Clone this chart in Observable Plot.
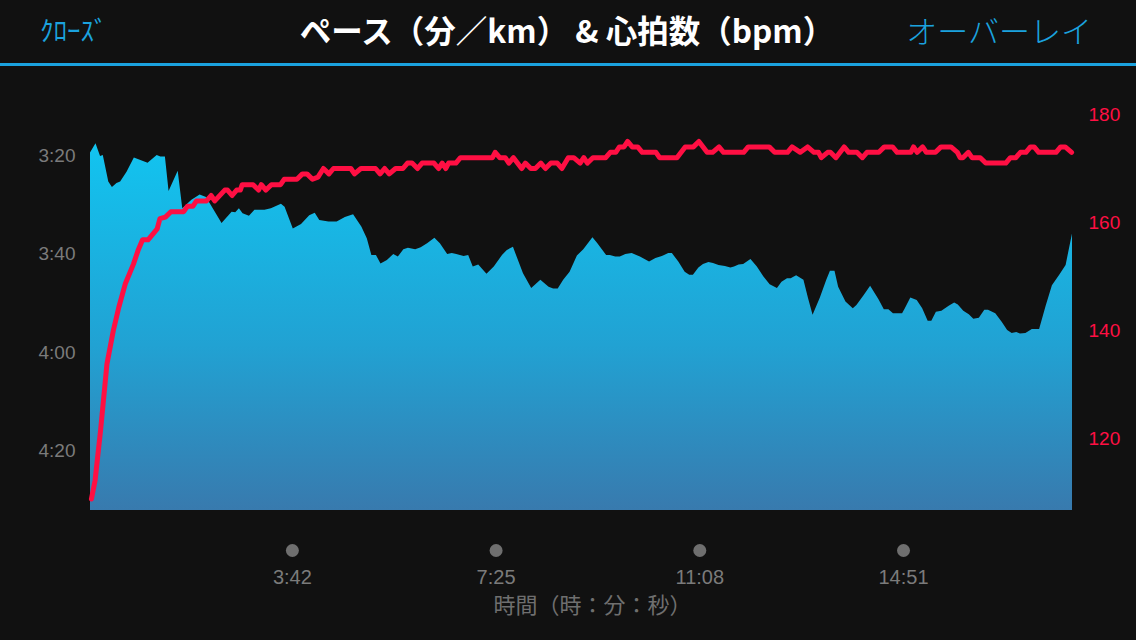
<!DOCTYPE html>
<html><head><meta charset="utf-8">
<script src="https://cdn.jsdelivr.net/npm/d3@7"></script>
<script src="https://cdn.jsdelivr.net/npm/@observablehq/plot@0.6"></script>
<style>
html,body{margin:0;padding:0;background:#111;}
#root{position:relative;width:1136px;height:640px;background:#111;overflow:hidden;}
#header{position:relative;height:63px;border-bottom:3px solid #1ba2de;}
.hdr{position:absolute;top:0;height:63px;line-height:60px;font-family:"Noto Sans CJK JP",sans-serif;white-space:nowrap;}
#close{left:40px;color:#1ba2de;font-size:27px;}
#title{left:567px;top:-1px;transform:translateX(-50%);color:#fff;font-size:31.5px;font-weight:700;}
#overlay{right:44px;color:#1ba2de;font-size:31px;font-weight:300;}
#chart{position:relative;width:1136px;height:574px;}
#chart svg{position:absolute;left:0;top:0;}
</style></head>
<body><div id="root">
<div id="header"><div class="hdr" id="close">ｸﾛｰｽﾞ</div><div class="hdr" id="title">ペース（分／km） &amp; 心拍数（bpm）</div><div class="hdr" id="overlay">オーバーレイ</div></div>
<div id="chart"></div>
</div>
<script>
// Pace (seconds per km) over elapsed time (s)
const paceTime = [1,7,12,15,21,25,30,34,41,49,64,74,78,83,87,97,102,112,121,128,145,156,160,164,168,175,181,192,199,210,214,223,232,241,247,252,262,271,280,289,298,304,309,314,319,326,333,338,344,349,357,363,370,378,384,392,397,402,410,415,420,426,435,443,452,457,464,468,475,484,494,503,508,513,519,526,534,541,551,556,566,570,576,581,587,594,603,613,620,627,634,638,645,652,657,661,667,672,678,683,689,696,702,706,711,716,724,731,738,745,753,758,764,768,774,782,787,792,800,807,811,816,820,828,836,840,848,855,864,870,875,880,890,893,899,906,912,918,922,927,933,941,947,951,957,963,968,974,980,984,992,999,1005,1010,1015,1019,1025,1032,1040,1047,1054,1062,1069,1076];
const paceSec = [199.5,197.6,200.2,200.0,205.4,206.5,205.7,205.4,203.4,200.5,201.6,200.0,200.3,200.3,207.3,203.2,210.8,209.1,208.0,208.5,213.8,211.5,211.6,210.8,211.8,212.3,211.1,211.1,210.8,209.9,210.5,214.9,214.0,212.2,211.7,213.2,213.5,213.5,212.6,212.0,214.5,216.9,220.3,220.3,222.0,221.3,220.1,220.6,219.1,218.8,219.1,218.7,217.9,216.8,217.9,220.1,219.9,220.1,220.5,220.3,222.6,222.2,224.1,222.6,220.3,219.3,218.6,220.6,224.0,227.0,225.3,226.7,227.1,227.1,225.3,223.7,220.4,219.1,216.7,217.8,220.3,220.3,220.6,220.6,220.1,219.9,220.6,221.6,220.9,220.5,219.9,219.9,221.6,223.7,224.3,224.3,222.8,222.1,221.7,221.9,222.3,222.5,222.8,222.6,222.2,222.1,221.1,222.6,224.6,226.2,227.0,225.7,225.0,225.0,224.4,225.3,229.0,232.4,228.9,225.3,223.5,223.5,226.7,229.7,231.1,230.4,228.4,226.5,229.2,231.3,231.3,232.1,232.1,231.1,228.9,229.4,231.1,233.6,233.6,231.8,231.6,230.6,229.9,230.3,231.6,232.3,233.2,233.0,231.4,231.4,232.1,233.8,235.5,236.1,235.9,236.2,236.1,235.3,235.3,230.7,226.4,224.3,222.3,215.9];
// Heart rate (bpm) over elapsed time (s)
const hrTime = [2,6,12,19,26,32,39,48,53,58,64,74,77,83,89,103,107,113,117,128,133,137,148,151,156,161,165,167,179,185,188,193,199,209,213,227,233,238,244,250,256,262,267,286,290,297,313,318,323,328,335,343,348,353,359,364,377,382,386,390,393,401,406,441,444,449,455,459,464,473,477,483,488,494,499,505,512,517,524,530,537,541,545,551,565,570,576,580,585,589,594,600,605,620,624,643,652,661,667,676,682,689,694,716,721,744,750,764,769,778,786,793,798,801,808,811,817,826,831,840,846,851,864,870,879,884,899,902,906,912,916,926,932,943,950,953,956,962,966,975,981,1003,1008,1014,1019,1025,1030,1034,1039,1058,1063,1068,1075];
const hrBpm = [108.8,112.2,121.5,133.8,140.0,144.3,148.6,152.3,154.8,156.8,156.8,158.8,160.7,161,162,162,163,163,164,164,165,164,166,166,165,166,166,167,167,166,167,166,167,167,168,168,169,169,168,168.4,170,169,170,170,169,170,170,169,170,169,170,170,171,171,170,171,171,170,171,170,171,171,172,172,173,172,172,171,172,170,171,170,170,171,170,171,171,170,172,172,171,172,171,172,172,173,173,174,174,175,174,174,173,173,172,172,174,174,175,173,173,174,173,173,174,174,173,173,174,173,174,173,173,172,173,173,172,174,173,173,172,173,173,174,174,173,173,174,173,174,173,173,174,174,173,172,172,173,172,172,171,171,172,172,173,173,174,174,173,173,174,174,173];

const paceTicks = [200, 220, 240, 260];
const paceTickLabels = ["3:20", "3:40", "4:00", "4:20"];
const hrTicks = [120, 140, 160, 180];
const timeTicks = [222, 445, 668, 891];
const timeTickLabels = ["3:42", "7:25", "11:08", "14:51"];
const xLabel = "時間（時：分：秒）";

const pace = paceTime.map((t, i) => ({t, p: paceSec[i]}));
const hr = hrTime.map((t, i) => ({t, h: hrBpm[i]}));

const W = 1136, H = 574;
const common = {width: W, height: H, marginLeft: 90, marginRight: 64, marginTop: 34, marginBottom: 130};
const xDomain = [1, 1076];
const paceBase = 272;

const p1 = Plot.plot({
  ...common,
  style: {background: "#111", color: "#7b7b7b", fontFamily: "'Liberation Sans', Arial, sans-serif"},
  x: {domain: xDomain, axis: null},
  y: {domain: [paceBase, 188.85], axis: null},
  marks: [
    Plot.areaY(pace, {x: "t", y1: paceBase, y2: "p", fill: "url(#paceGrad)"}),
    Plot.axisY({ticks: paceTicks, tickFormat: d => paceTickLabels[paceTicks.indexOf(d)], tickSize: 0, tickPadding: 15, fontSize: 19, fill: "#7b7b7b", label: null}),
    Plot.dot(timeTicks, {x: d => d, frameAnchor: "bottom", dy: 40, r: 6.5, fill: "#6f6f6f"}),
    Plot.axisX({ticks: timeTicks, tickFormat: d => timeTickLabels[timeTicks.indexOf(d)], tickSize: 0, tickPadding: 59, fontSize: 20, fill: "#7b7b7b", label: null}),
    Plot.text([xLabel], {text: d => d, frameAnchor: "bottom", dx: 11, dy: 102, fontSize: 22, fill: "#6f6f6f", fontFamily: "'Noto Sans CJK JP', sans-serif"})
  ]
});
const defs = d3.select(p1).insert("defs", ":first-child");
const g = defs.append("linearGradient").attr("id", "paceGrad").attr("x1", 0).attr("y1", 0).attr("x2", 0).attr("y2", 1);
g.append("stop").attr("offset", 0).attr("stop-color", "#12c4f0");
g.append("stop").attr("offset", 0.55).attr("stop-color", "#21a2d3");
g.append("stop").attr("offset", 1).attr("stop-color", "#387aae");

const p2 = Plot.plot({
  ...common,
  style: {background: "transparent", fontFamily: "'Liberation Sans', Arial, sans-serif"},
  x: {domain: xDomain, axis: null},
  y: {domain: [106.67, 182.59], axis: null},
  marks: [
    Plot.lineY(hr, {x: "t", y: "h", stroke: "#ff0f43", strokeWidth: 5, strokeLinejoin: "round", strokeLinecap: "round"}),
    Plot.axisY({anchor: "right", ticks: hrTicks, tickSize: 0, tickPadding: 16, fontSize: 19, fill: "#ff0f43", label: null})
  ]
});
const chart = document.getElementById("chart");
chart.appendChild(p1);
chart.appendChild(p2);
</script>
</body></html>
